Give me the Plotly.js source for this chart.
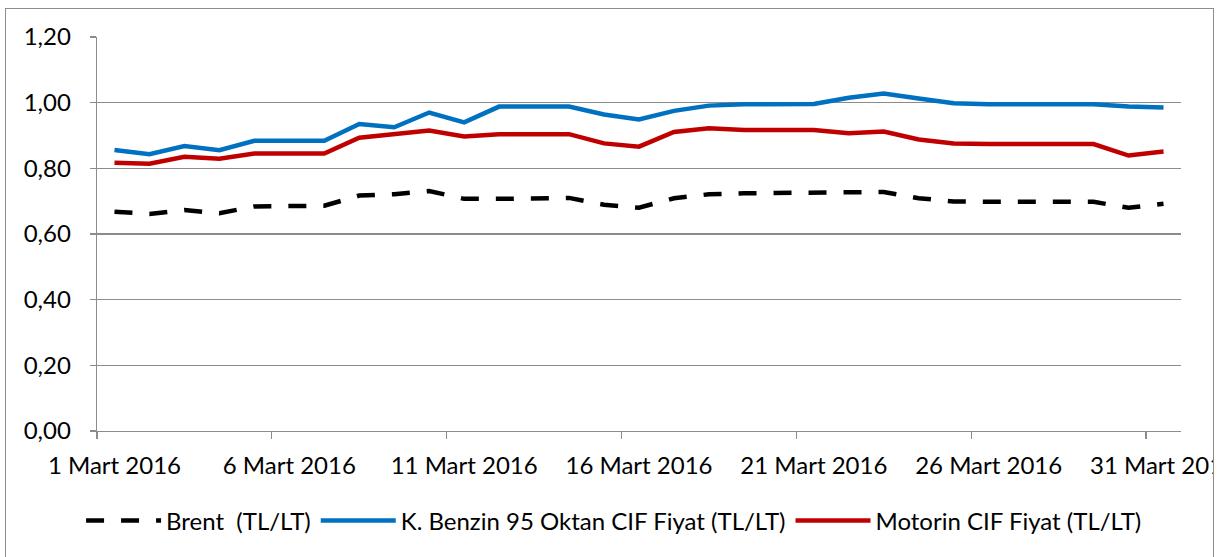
<!DOCTYPE html>
<html>
<head>
<meta charset="utf-8">
<script src="https://cdn.plot.ly/plotly-3.0.1.min.js"></script>
<style>
  html, body { margin: 0; padding: 0; background: #fff; }
  #wrap { position: relative; width: 1218px; height: 557px; overflow: hidden; }
  #chart { width: 1218px; height: 557px; }
  #frame { position: absolute; left: 5px; top: 8px; width: 1209px; height: 560px;
           border: 1px solid #8c8c8c; pointer-events: none; box-sizing: border-box; }
  #mask { position: absolute; left: 1214px; top: 0; width: 4px; height: 557px; background: #fff; }
</style>
</head>
<body>
<div id="wrap">
  <div id="chart"></div>
  <div id="mask"></div>
  <div id="frame"></div>
</div>
<script>
// Dates (daily, March 2016)
const dates = [
  '2016-03-01','2016-03-02','2016-03-03','2016-03-04','2016-03-05','2016-03-06','2016-03-07',
  '2016-03-08','2016-03-09','2016-03-10','2016-03-11','2016-03-12','2016-03-13','2016-03-14',
  '2016-03-15','2016-03-16','2016-03-17','2016-03-18','2016-03-19','2016-03-20','2016-03-21',
  '2016-03-22','2016-03-23','2016-03-24','2016-03-25','2016-03-26','2016-03-27','2016-03-28',
  '2016-03-29','2016-03-30','2016-03-31'
];

// Brent (TL/LT)
const brent = [
  0.668, 0.661, 0.673, 0.663, 0.684, 0.686, 0.686,
  0.717, 0.721, 0.731, 0.707, 0.707, 0.710, 0.710,
  0.689, 0.680, 0.709, 0.721, 0.724, 0.725, 0.725,
  0.729, 0.728, 0.709, 0.699, 0.698, 0.698, 0.698,
  0.698, 0.680, 0.692
];

// K. Benzin 95 Oktan CIF Fiyat (TL/LT)
const benzin = [
  0.856, 0.843, 0.868, 0.855, 0.884, 0.884, 0.884,
  0.935, 0.925, 0.970, 0.940, 0.988, 0.988, 0.988,
  0.964, 0.949, 0.975, 0.991, 0.995, 0.995, 0.996,
  1.015, 1.028, 1.013, 0.998, 0.995, 0.995, 0.995,
  0.995, 0.988, 0.985
];

// Motorin CIF Fiyat (TL/LT)
const motorin = [
  0.817, 0.814, 0.835, 0.829, 0.845, 0.845, 0.845,
  0.893, 0.903, 0.915, 0.897, 0.904, 0.904, 0.904,
  0.876, 0.866, 0.911, 0.922, 0.917, 0.917, 0.917,
  0.907, 0.912, 0.888, 0.876, 0.874, 0.874, 0.874,
  0.874, 0.839, 0.851
];

const seriesNames = ['Brent  (TL/LT)', 'K. Benzin 95 Oktan CIF Fiyat (TL/LT)', 'Motorin CIF Fiyat (TL/LT)'];

// Tick labels (centred on the day) and tick marks (on the day boundaries)
const labelDates = ['2016-03-01','2016-03-06','2016-03-11','2016-03-16','2016-03-21','2016-03-26','2016-03-31'];
const labelTexts = ['1 Mart 2016','6 Mart 2016','11 Mart 2016','16 Mart 2016','21 Mart 2016','26 Mart 2016','31 Mart 2016'];
const tickMarkDates = ['2016-02-29 12:00','2016-03-05 12:00','2016-03-10 12:00','2016-03-15 12:00',
                       '2016-03-20 12:00','2016-03-25 12:00','2016-03-30 12:00'];
const yTicks = [0, 0.2, 0.4, 0.6, 0.8, 1.0, 1.2];

const FONT = 'Lato, "Open Sans", sans-serif';
const GRID = '#8c8c8c';
const FS = 24;

const traces = [
  { x: dates, y: brent, name: seriesNames[0], type: 'scatter', mode: 'lines',
    line: { color: '#000000', width: 4.5, dash: '18px,17px' } },
  { x: dates, y: benzin, name: seriesNames[1], type: 'scatter', mode: 'lines',
    line: { color: '#0070C0', width: 4.5 } },
  { x: dates, y: motorin, name: seriesNames[2], type: 'scatter', mode: 'lines',
    line: { color: '#C00000', width: 4.5 } }
];

const layout = {
  width: 1218, height: 557,
  margin: { l: 97, r: 37, t: 37, b: 126 },
  paper_bgcolor: '#ffffff', plot_bgcolor: '#ffffff',
  separators: ',.',
  font: { family: FONT, size: FS, color: '#000000' },
  showlegend: true,
  legend: {
    orientation: 'h', x: 0.477, xanchor: 'center', y: -0.228, yanchor: 'middle',
    font: { family: FONT, size: FS, color: '#000000' },
    itemwidth: 75, tracegroupgap: 0, bgcolor: 'rgba(0,0,0,0)'
  },
  xaxis: {
    type: 'date',
    range: ['2016-02-29 12:00', '2016-03-31 12:00'],
    tickmode: 'array', tickvals: labelDates, ticktext: labelTexts,
    ticks: '', showgrid: false, zeroline: false,
    showline: true, linecolor: GRID, linewidth: 1.3,
    tickfont: { family: FONT, size: FS, color: '#000000' },
    ticklabelstandoff: 13, ticklabeloverflow: 'allow',
    minor: { tickmode: 'array', tickvals: tickMarkDates, ticks: 'outside',
             ticklen: 7, tickwidth: 1.3, tickcolor: GRID, showgrid: false },
    fixedrange: true
  },
  yaxis: {
    range: [0, 1.2],
    tickmode: 'array', tickvals: yTicks, tickformat: '.2f',
    ticks: 'outside', ticklen: 6, tickwidth: 1.3, tickcolor: GRID,
    showgrid: true, gridcolor: GRID, gridwidth: 1.3,
    zeroline: false, showline: true, linecolor: GRID, linewidth: 1.3,
    tickfont: { family: FONT, size: FS, color: '#000000' },
    ticklabelstandoff: 14,
    fixedrange: true
  }
};

Plotly.newPlot('chart', traces, layout, { displayModeBar: false, staticPlot: true });
</script>
</body>
</html>
